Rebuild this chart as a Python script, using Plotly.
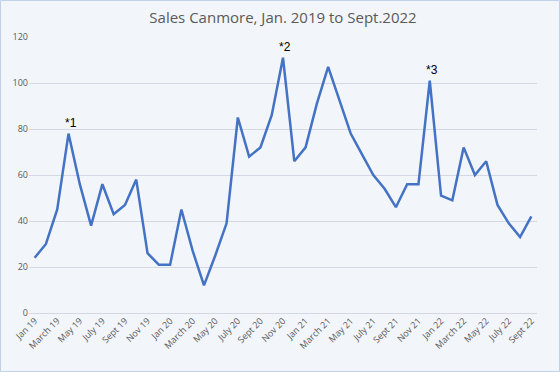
import plotly.graph_objects as go

months = ["Jan 19","Feb 19","March 19","Apr 19","May 19","June 19","July 19","Aug 19","Sept 19","Oct 19","Nov 19","Dec 19",
          "Jan 20","Feb 20","March 20","Apr 20","May 20","June 20","July 20","Aug 20","Sept 20","Oct 20","Nov 20","Dec 20",
          "Jan 21","Feb 21","March 21","Apr 21","May 21","June 21","July 21","Aug 21","Sept 21","Oct 21","Nov 21","Dec 21",
          "Jan 22","Feb 22","March 22","Apr 22","May 22","June 22","July 22","Aug 22","Sept 22"]
sales = [24, 30, 45, 78, 56, 38, 56, 43, 47, 58, 26, 21,
         21, 45, 27, 12, 25, 39, 85, 68, 72, 86, 111, 66,
         72, 91, 107, 92, 78, 69, 60, 54, 46, 56, 56, 101,
         51, 49, 72, 60, 66, 47, 39, 33, 42]
notes = {"Apr 19": "*1", "Nov 20": "*2", "Dec 21": "*3"}

tick_labels = months[::2]

W, H = 560, 372
L, R, T, B = 29, 23, 37, 59
pw, ph = W - L - R, H - T - B

fig = go.Figure()
fig.add_trace(go.Scatter(x=months, y=sales, mode="lines",
                         line=dict(color="#4472C4", width=2.5), hoverinfo="x+y"))

for m, t in notes.items():
    fig.add_annotation(x=m, y=sales[months.index(m)], text=t, showarrow=False,
                       yshift=11, xshift=2, font=dict(family="Liberation Sans, Arial", size=12, color="#000000"))

fig.add_shape(type="rect", xref="paper", yref="paper",
              x0=-L / pw + 0.5 / pw, x1=1 + R / pw - 0.5 / pw,
              y0=-B / ph + 0.5 / ph, y1=1 + T / ph - 0.5 / ph,
              line=dict(color="#C3D1E8", width=1), layer="below")

fig.update_layout(
    width=W, height=H,
    margin=dict(l=L, r=R, t=T, b=B, autoexpand=False),
    paper_bgcolor="#F2F5FA", plot_bgcolor="#F2F5FA",
    showlegend=False,
    title=dict(text="Sales Canmore, Jan. 2019 to Sept.2022", x=0.5, xref="paper", xanchor="center",
               y=1 - 18 / H, yanchor="middle",
               font=dict(family="Open Sans, sans-serif", size=15, color="#595959")),
    font=dict(family="Open Sans, sans-serif", size=9, color="#595959"),
    xaxis=dict(type="category", categoryorder="array", categoryarray=months,
               tickmode="array", tickvals=tick_labels, ticktext=tick_labels,
               tickangle=-45, showgrid=False, zeroline=False, showline=False, automargin=False,
               range=[-0.5, len(months) - 0.5], ticks="", tickfont=dict(size=9, color="#595959")),
    yaxis=dict(range=[0, 120], dtick=20, showgrid=True, gridcolor="#D3D8E3", gridwidth=1,
               zeroline=True, zerolinecolor="#D3D8E3", zerolinewidth=1, showline=False, automargin=False,
               ticks="", tickfont=dict(size=9, color="#595959"), fixedrange=True),
)

fig.write_html("out.html", config={"displayModeBar": False},
               post_script="document.body.style.margin='0';document.body.style.background='#F2F5FA';")
